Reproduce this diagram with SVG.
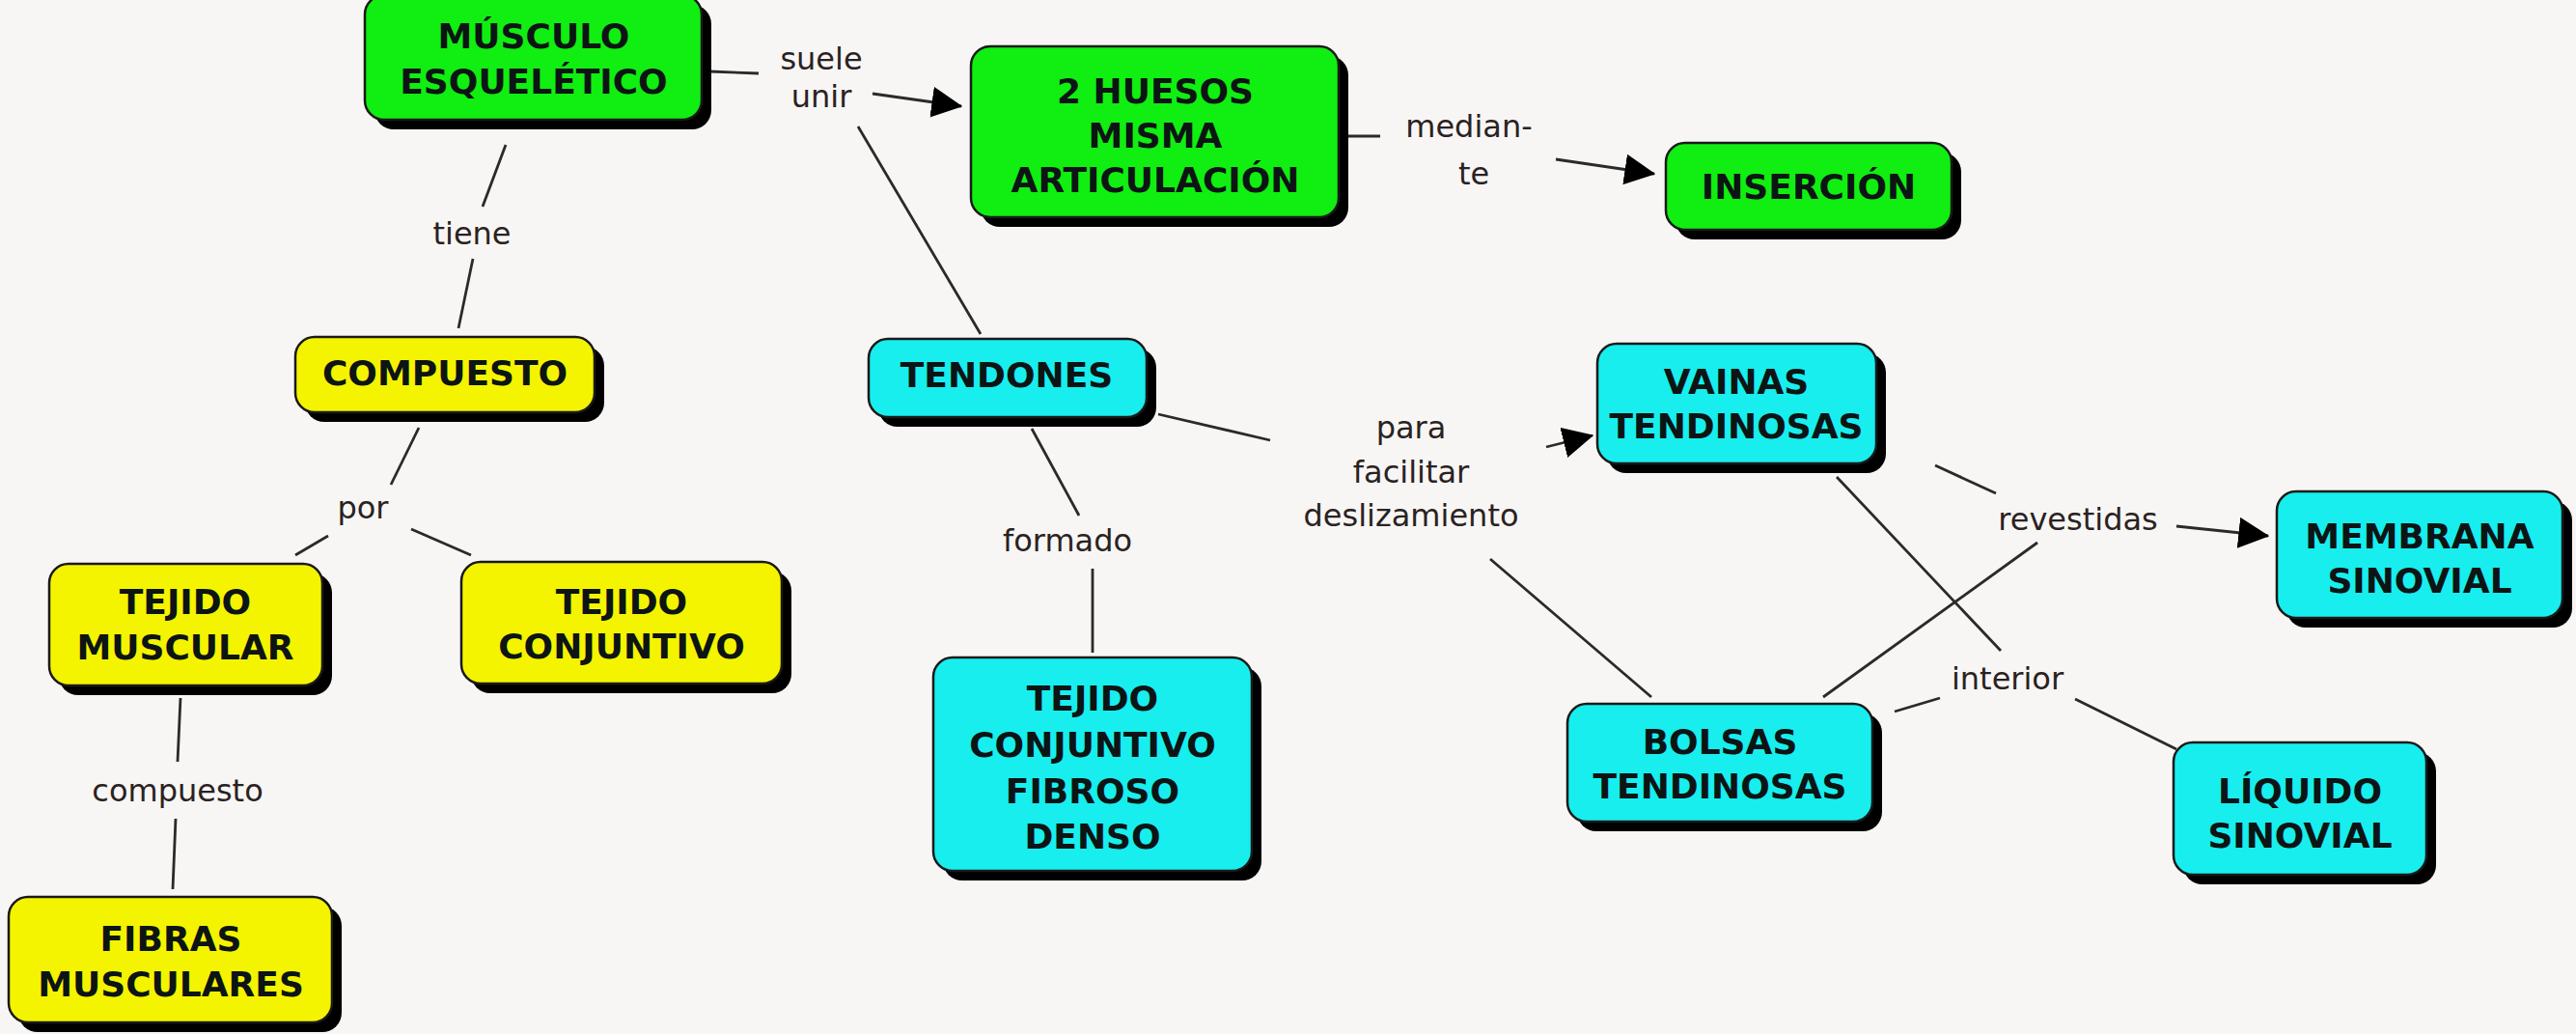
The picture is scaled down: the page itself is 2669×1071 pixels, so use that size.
<svg xmlns="http://www.w3.org/2000/svg" width="2669" height="1071" viewBox="0 0 2669 1071">
<style>
.bg{fill:#f8f6f4}
.sh{fill:#000}
.box{stroke:#1a1a1a;stroke-width:2.5}
.g{fill:#11ee11}
.y{fill:#f4f400}
.c{fill:#18eeee}
.nt{font-family:"DejaVu Sans",Verdana,sans-serif;font-weight:bold;font-size:36px;fill:#0c1414;text-anchor:middle}
.lt{font-family:"DejaVu Sans",Verdana,sans-serif;font-size:32px;fill:#2a2222;text-anchor:middle}
.ln{stroke:#2a2a2a;stroke-width:2.8;fill:none}
</style>
<defs>
<marker id="arr" viewBox="0 0 24 24" refX="23" refY="12" markerWidth="32" markerHeight="32" markerUnits="userSpaceOnUse" orient="auto">
<path d="M0,0 L24,12 L0,24 z" fill="#000"/>
</marker>
</defs>
<rect class="bg" x="0" y="0" width="2669" height="1071"/>

<g id="connectors">
<line class="ln" x1="735" y1="74" x2="786" y2="76"/>
<line class="ln" x1="904" y1="97" x2="996" y2="110" marker-end="url(#arr)"/>
<line class="ln" x1="889" y1="131" x2="1016" y2="346"/>
<line class="ln" x1="524" y1="150" x2="500" y2="214"/>
<line class="ln" x1="490" y1="268" x2="475" y2="340"/>
<line class="ln" x1="1396" y1="141" x2="1430" y2="141"/>
<line class="ln" x1="1612" y1="165" x2="1714" y2="180" marker-end="url(#arr)"/>
<line class="ln" x1="434" y1="443" x2="405" y2="502"/>
<line class="ln" x1="340" y1="555" x2="306" y2="575"/>
<line class="ln" x1="426" y1="548" x2="488" y2="575"/>
<line class="ln" x1="187" y1="723" x2="184" y2="789"/>
<line class="ln" x1="182" y1="848" x2="179" y2="921"/>
<line class="ln" x1="1069" y1="444" x2="1118" y2="534"/>
<line class="ln" x1="1132" y1="589" x2="1132" y2="676"/>
<line class="ln" x1="1200" y1="429" x2="1316" y2="456"/>
<line class="ln" x1="1602" y1="463" x2="1650" y2="451" marker-end="url(#arr)"/>
<line class="ln" x1="1544" y1="579" x2="1711" y2="722"/>
<line class="ln" x1="2005" y1="482" x2="2068" y2="511"/>
<line class="ln" x1="2255" y1="545" x2="2350" y2="555" marker-end="url(#arr)"/>
<line class="ln" x1="1889" y1="722" x2="2111" y2="562"/>
<line class="ln" x1="1903" y1="494" x2="2073" y2="674"/>
<line class="ln" x1="1963" y1="737" x2="2010" y2="723"/>
<line class="ln" x1="2150" y1="724" x2="2255" y2="776"/>
</g>

<g id="labels">
<text class="lt" x="851" y="72">suele</text>
<text class="lt" x="851" y="111">unir</text>
<text class="lt" x="1522" y="142">median-</text>
<text class="lt" x="1527" y="191">te</text>
<text class="lt" x="489" y="253">tiene</text>
<text class="lt" x="376" y="537">por</text>
<text class="lt" x="184" y="830">compuesto</text>
<text class="lt" x="1106" y="571">formado</text>
<text class="lt" x="1462" y="454">para</text>
<text class="lt" x="1462" y="500">facilitar</text>
<text class="lt" x="1462" y="545">deslizamiento</text>
<text class="lt" x="2153" y="549">revestidas</text>
<text class="lt" x="2080" y="714">interior</text>
</g>

<g id="n-musculo">
<rect class="sh" x="388" y="5" width="349" height="129" rx="20"/>
<rect class="box g" x="378" y="-5" width="349" height="129" rx="20"/>
<text class="nt" x="553" y="50">MÚSCULO</text>
<text class="nt" x="553" y="97">ESQUELÉTICO</text>
</g>

<g id="n-huesos">
<rect class="sh" x="1016" y="58" width="381" height="177" rx="20"/>
<rect class="box g" x="1006" y="48" width="381" height="177" rx="20"/>
<text class="nt" x="1197" y="107">2 HUESOS</text>
<text class="nt" x="1197" y="153">MISMA</text>
<text class="nt" x="1197" y="199">ARTICULACIÓN</text>
</g>

<g id="n-insercion">
<rect class="sh" x="1736" y="158" width="296" height="90" rx="20"/>
<rect class="box g" x="1726" y="148" width="296" height="90" rx="20"/>
<text class="nt" x="1874" y="206">INSERCIÓN</text>
</g>

<g id="n-compuesto">
<rect class="sh" x="316" y="359" width="310" height="78" rx="20"/>
<rect class="box y" x="306" y="349" width="310" height="78" rx="20"/>
<text class="nt" x="461" y="399">COMPUESTO</text>
</g>

<g id="n-tejmusc">
<rect class="sh" x="61" y="594" width="283" height="126" rx="20"/>
<rect class="box y" x="51" y="584" width="283" height="126" rx="20"/>
<text class="nt" x="192" y="636">TEJIDO</text>
<text class="nt" x="192" y="683">MUSCULAR</text>
</g>

<g id="n-tejconj">
<rect class="sh" x="488" y="592" width="332" height="126" rx="20"/>
<rect class="box y" x="478" y="582" width="332" height="126" rx="20"/>
<text class="nt" x="644" y="636">TEJIDO</text>
<text class="nt" x="644" y="682">CONJUNTIVO</text>
</g>

<g id="n-fibras">
<rect class="sh" x="19" y="939" width="335" height="130" rx="20"/>
<rect class="box y" x="9" y="929" width="335" height="130" rx="20"/>
<text class="nt" x="177" y="985">FIBRAS</text>
<text class="nt" x="177" y="1032">MUSCULARES</text>
</g>

<g id="n-tendones">
<rect class="sh" x="910" y="361" width="288" height="81" rx="20"/>
<rect class="box c" x="900" y="351" width="288" height="81" rx="20"/>
<text class="nt" x="1043" y="401">TENDONES</text>
</g>

<g id="n-tcfd">
<rect class="sh" x="977" y="691" width="330" height="221" rx="20"/>
<rect class="box c" x="967" y="681" width="330" height="221" rx="20"/>
<text class="nt" x="1132" y="736">TEJIDO</text>
<text class="nt" x="1132" y="784">CONJUNTIVO</text>
<text class="nt" x="1132" y="832">FIBROSO</text>
<text class="nt" x="1132" y="879">DENSO</text>
</g>

<g id="n-vainas">
<rect class="sh" x="1665" y="366" width="289" height="124" rx="20"/>
<rect class="box c" x="1655" y="356" width="289" height="124" rx="20"/>
<text class="nt" x="1799" y="408">VAINAS</text>
<text class="nt" x="1799" y="454">TENDINOSAS</text>
</g>

<g id="n-membrana">
<rect class="sh" x="2369" y="519" width="296" height="131" rx="20"/>
<rect class="box c" x="2359" y="509" width="296" height="131" rx="20"/>
<text class="nt" x="2507" y="568">MEMBRANA</text>
<text class="nt" x="2507" y="614">SINOVIAL</text>
</g>

<g id="n-bolsas">
<rect class="sh" x="1634" y="739" width="316" height="122" rx="20"/>
<rect class="box c" x="1624" y="729" width="316" height="122" rx="20"/>
<text class="nt" x="1782" y="781">BOLSAS</text>
<text class="nt" x="1782" y="827">TENDINOSAS</text>
</g>

<g id="n-liquido">
<rect class="sh" x="2262" y="779" width="262" height="137" rx="20"/>
<rect class="box c" x="2252" y="769" width="262" height="137" rx="20"/>
<text class="nt" x="2383" y="832">LÍQUIDO</text>
<text class="nt" x="2383" y="878">SINOVIAL</text>
</g>
</svg>
